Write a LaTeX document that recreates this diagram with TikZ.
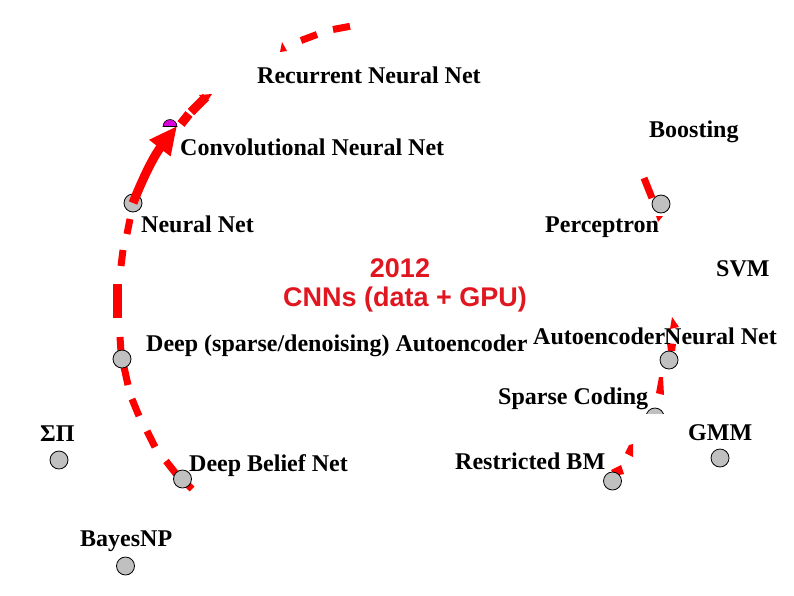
\documentclass[tikz,border=0pt]{standalone}
\usepackage{fontspec}
\setmainfont{Liberation Serif}
\newfontfamily\arialfont{Liberation Sans}
\usetikzlibrary{arrows.meta}
\definecolor{dotgray}{RGB}{192,192,192}
\definecolor{titlered}{RGB}{224,22,32}
\definecolor{halfmag}{RGB}{218,0,218}
\begin{document}
\begin{tikzpicture}[x=1pt,y=-1pt,
  lbl/.style={anchor=base west,inner sep=0pt,font=\fontsize{24}{28}\selectfont\bfseries},
  dot/.style={circle,draw=black,line width=0.8pt,fill=dotgray,minimum size=18pt,inner sep=0pt},
  dashseg/.style={draw=red,line width=7pt},
  frag/.style={fill=red,draw=none},
  big/.style={anchor=center,inner sep=0pt,text=titlered,font=\fontsize{27}{32}\selectfont\arialfont\bfseries}]
\useasboundingbox (0,0) rectangle (794,595);
% --- left dashed arc ---
\draw[dashseg] (130,219) -- (127,234);
\draw[dashseg] (123,250) -- (121,266);
\draw[dashseg,line width=9pt] (117,284) -- (117,318);
\draw[dashseg] (120,337) -- (121,352);
\draw[dashseg] (124,367) -- (128,385);
\draw[dashseg] (132,399) -- (139,416);
\draw[dashseg] (147,431) -- (155,447);
\draw[dashseg] (166,461) -- (177,475);
\draw[dashseg] (186,483) -- (192,489);
% --- top fragments ---
\fill[frag] (282,42) -- (280,52) -- (287,51) -- cycle;
\draw[dashseg] (301,40.5) -- (317,34.5);
\draw[dashseg] (333,29.5) -- (350,26.3);
% --- segment after the arrow ---
\draw[dashseg,line width=9pt] (181,124) -- (189,114);
\draw[dashseg,line width=9pt] (191,112) -- (206,97);
\fill[frag] (199,95) -- (212,94) -- (206,103) -- cycle;
% --- right fragments ---
\draw[dashseg] (644,178) -- (652,198);
\fill[frag] (656,216) -- (663,216) -- (658,222) -- cycle;
\fill[frag] (672,317) -- (679,327) -- (670,329) -- cycle;
\fill[frag] (667,343) -- (676,344) -- (675,351) -- (668,351) -- cycle;
\fill[frag] (659,377) -- (663,377) -- (664,395) -- (656,393) -- cycle;
\fill[frag] (629,445) -- (633,444) -- (633,457) -- (625,453) -- cycle;
\fill[frag] (611,470) -- (621,465) -- (624,474) -- (614,476) -- cycle;
% --- nodes (dots) ---
\node[dot] (nn) at (133,203) {};
\node[dot] (perc) at (661,204) {};
\node[dot] (dae) at (122,359) {};
\node[dot] (ann) at (669,360) {};
\begin{scope}
  \clip (640,400) rectangle (670,413);
  \node[dot] (sc) at (655,417) {};
\end{scope}
\node[dot] (gmm) at (720,458) {};
\node[dot] (sp) at (59,460) {};
\node[dot] (dbn) at (182.5,479) {};
\node[dot] (rbm) at (612.5,481) {};
\node[dot] (bnp) at (125.5,566) {};
% --- solid arrow to CNN ---
\coordinate (tip) at (177,126);
\draw[red,line width=9pt,-{Triangle[length=28pt,width=25pt]}] (nn.center) to[bend left=8] (tip);
% magenta half disc
\filldraw[fill=halfmag,draw=black,line width=0.6pt] (163,126.5) arc[start angle=180,end angle=0,radius=7pt] -- cycle;
% --- labels ---
\node[lbl] (trnn) at (257,83) {Recurrent Neural Net};
\node[lbl] (tcnn) at (180,155) {Convolutional Neural Net};
\node[lbl] (tboost) at (649,137) {Boosting};
\node[lbl] (tnn) at (141,232) {Neural Net};
\node[lbl] (tperc) at (545,232) {Perceptron};
\node[lbl] (tsvm) at (716,276) {SVM};
\node[lbl] (tdae) at (146,351) {Deep (sparse/denoising) Autoencoder};
\node[lbl] (tae) at (533,344) {Autoencoder};
\node[lbl] (tann) at (664,344) {Neural Net};
\node[lbl] (tsc) at (498,404) {Sparse Coding};
\node[lbl] (tgmm) at (688,440) {GMM};
\node[lbl] (tsp) at (40,441) {ΣΠ};
\node[lbl] (tdbn) at (189,471) {Deep Belief Net};
\node[lbl] (trbm) at (455,469) {Restricted BM};
\node[lbl] (tbnp) at (80,546) {BayesNP};
\node[big] (y2012) at (400,268) {2012};
\node[big] (cnns) at (405,300) {CNNs (data + GPU)};
\end{tikzpicture}
\end{document}
